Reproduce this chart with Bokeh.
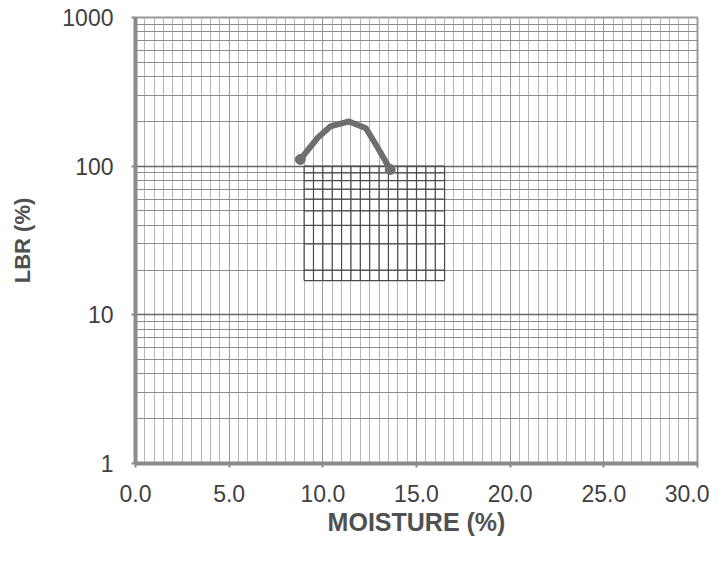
from bokeh.plotting import figure
from bokeh.models import SingleIntervalTicker, LogTicker, NumeralTickFormatter, Range1d
from bokeh.embed import file_html
from bokeh.resources import INLINE
import numpy as np

# data
moisture = [8.8, 9.7, 10.4, 11.4, 12.3, 12.9, 13.6]
lbr = [111, 154, 185, 200, 180, 135, 95]

# darker (denser-printed) grid patch seen in the scan
patch_x = [9.0, 16.5]
patch_y = [17, 100]

x_range = [0, 30]
y_range = [1, 1000]
x_title = "MOISTURE (%)"
y_title = "LBR (%)"

p = figure(width=709, height=547, x_axis_type="linear", y_axis_type="log",
           x_range=Range1d(*x_range), y_range=Range1d(*y_range),
           output_backend="svg", toolbar_location=None,
           min_border_left=135, min_border_right=12, min_border_top=17, min_border_bottom=84)
p.outline_line_color = "#999999"
p.outline_line_width = 2

p.xaxis.ticker = SingleIntervalTicker(interval=5, num_minor_ticks=10)
p.yaxis.ticker = LogTicker(num_minor_ticks=10)
p.xaxis.formatter = NumeralTickFormatter(format="0.0")
p.yaxis.formatter = NumeralTickFormatter(format="0")

for ax in (p.xaxis, p.yaxis):
    ax.axis_line_color = "#8a8a8a"
    ax.axis_line_width = 4
    ax.major_tick_line_color = "#8a8a8a"
    ax.major_tick_line_width = 2
    ax.major_tick_out = 4
    ax.major_tick_in = 0
    ax.minor_tick_line_color = None
    ax.major_label_text_font = "Liberation Sans"
    ax.major_label_text_font_size = "23px"
    ax.major_label_text_color = "#3f3f3f"
    ax.axis_label_text_font = "Liberation Sans"
    ax.axis_label_text_font_style = "bold"
    ax.axis_label_text_color = "#505050"

p.xaxis.axis_label = x_title
p.yaxis.axis_label = y_title
p.xaxis.axis_label_text_font_size = "25px"
p.yaxis.axis_label_text_font_size = "22px"
p.xaxis.major_label_standoff = 17
p.xaxis.axis_label_standoff = 3
p.yaxis.major_label_standoff = 18
p.yaxis.axis_label_standoff = 24

p.xgrid.grid_line_color = "#9a9a9a"
p.xgrid.minor_grid_line_color = "#b5b5b5"
p.xgrid.grid_line_width = 1
p.ygrid.grid_line_color = "#666666"
p.ygrid.minor_grid_line_color = "#8c8c8c"
p.ygrid.grid_line_width = 1.5

# darker patch of grid
vx = np.arange(patch_x[0], patch_x[1] + 0.01, 0.5)
p.segment(x0=vx, y0=[patch_y[0]] * len(vx), x1=vx, y1=[patch_y[1]] * len(vx),
          line_color="#4a4a4a", line_width=1.2)
hy = [v for v in range(10, 101, 10) if patch_y[0] <= v <= patch_y[1]] + [patch_y[0]]
p.segment(x0=[patch_x[0]] * len(hy), y0=hy, x1=[patch_x[1]] * len(hy), y1=hy,
          line_color="#4a4a4a", line_width=1.2)

p.line(moisture, lbr, line_color="#6e6e6e", line_width=6, line_join="round", line_cap="round")
p.scatter([moisture[0], moisture[-1]], [lbr[0], lbr[-1]], size=10,
          fill_color="#6e6e6e", line_color="#6e6e6e")

open("out.html", "w").write(file_html(p, INLINE))
